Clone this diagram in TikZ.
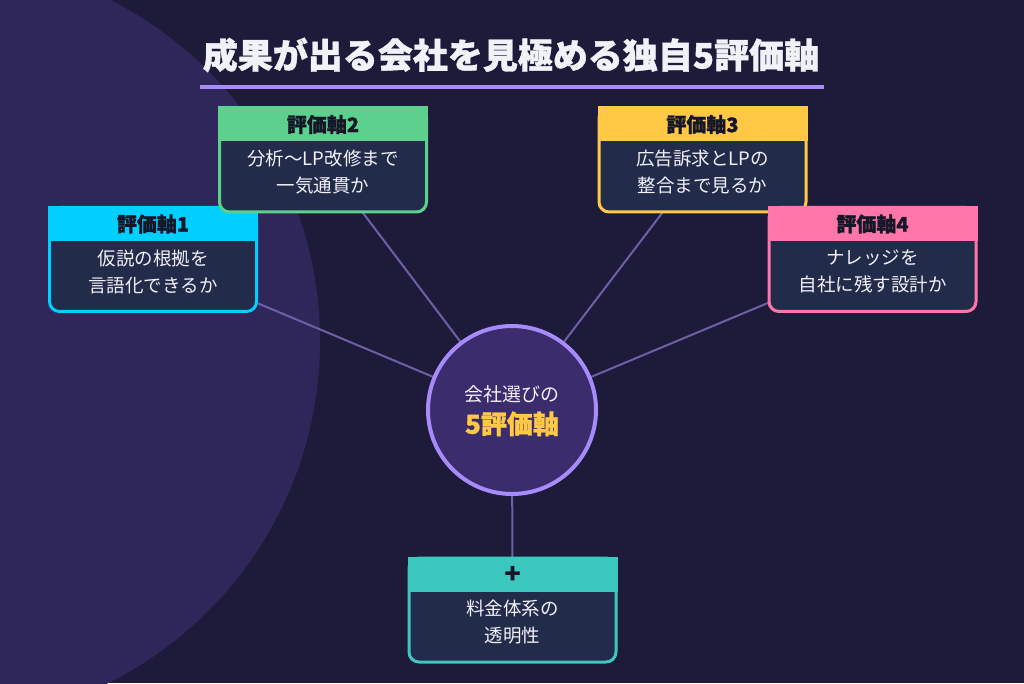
\documentclass[tikz,border=0pt]{standalone}
\usepackage{fontspec}
\setmainfont{Noto Sans CJK JP}[BoldFeatures={FakeBold=1.2}]
\usetikzlibrary{calc,backgrounds}

\definecolor{bgdark}{HTML}{1D1A3A}
\definecolor{bgblob}{HTML}{2F2759}
\definecolor{boxbody}{HTML}{232B4A}
\definecolor{axcyan}{HTML}{00CFFF}
\definecolor{axgreen}{HTML}{5CD08C}
\definecolor{axyellow}{HTML}{FFC845}
\definecolor{axpink}{HTML}{FF77A9}
\definecolor{axteal}{HTML}{3CC8BE}
\definecolor{lavender}{HTML}{A78BFA}
\definecolor{hubfill}{HTML}{3B2C6D}
\definecolor{linkcol}{HTML}{6E60A6}
\definecolor{headink}{HTML}{161629}
\definecolor{paper}{HTML}{F1F1F8}

\tikzset{
  axbox/.style={rectangle, rounded corners=10pt, minimum width=207pt, minimum height=104pt,
    inner sep=0pt, outer sep=0pt, fill=boxbody, line width=3pt},
  axhead/.style={font=\bfseries\fontsize{20}{22}\selectfont, text=headink, inner sep=0pt},
  axbody/.style={font=\fontsize{18.5}{27}\selectfont, text=paper, align=center, inner sep=0pt},
  link/.style={draw=linkcol, line width=2pt},
}

% name, position, colour, header, body
\newcommand{\axisbox}[5]{%
  \node[axbox, draw=#3] (#1) at (#2) {};
  \fill[#3] ($(#1.north west)+(-1.5,1.5)$) rectangle ($(#1.north east)+(1.5,-33.5)$);
  \node[axhead] (#1h) at ($(#1.north)+(0,-16.5)$) {#4};
  \node[axbody] (#1b) at ($(#1.center)+(0,-12)$) {#5};
}

\begin{document}
\begin{tikzpicture}[x=1pt, y=1pt]
\useasboundingbox (0,0) rectangle (1024,683);

% title
\node[font=\bfseries\fontsize{35}{40}\selectfont, text=paper] (title) at (511,628) {成果が出る会社を見極める独自5評価軸};
\draw[lavender, line width=4pt] (200,596) -- (824,596);

% the five axes
\axisbox{ax1}{153,423.5}{axcyan}{評価軸1}{仮説の根拠を\\言語化できるか}
\axisbox{ax2}{323,523}{axgreen}{評価軸2}{分析〜LP改修まで\\一気通貫か}
\axisbox{ax3}{702.5,523}{axyellow}{評価軸3}{広告訴求とLPの\\整合まで見るか}
\axisbox{ax4}{872.5,423.5}{axpink}{評価軸4}{ナレッジを\\自社に残す設計か}
\axisbox{plus}{512.5,73}{axteal}{\fontsize{26}{26}\selectfont +}{料金体系の\\透明性}

% hub
\node[circle, minimum size=168pt, inner sep=0pt, outer sep=0pt, fill=hubfill, draw=lavender, line width=4pt] (hub) at (512,273) {};
\node[text=paper, align=center, font=\fontsize{19}{32}\selectfont] (hubtxt) at (512,272)
  {会社選びの\\{\color{axyellow}\bfseries\fontsize{26}{32}\selectfont 5評価軸}};

\begin{scope}[on background layer]
  \fill[bgdark] (0,0) rectangle (1024,683);
  \clip (0,0) rectangle (1024,683);
  \fill[bgblob] (-62,342) circle (382pt);
  \draw[link] (hub) -- (ax1);
  \draw[link] (hub) -- (ax2);
  \draw[link] (hub) -- (ax3);
  \draw[link] (hub) -- (ax4);
  \draw[link] (hub) -- (plus);
\end{scope}
\end{tikzpicture}
\end{document}
